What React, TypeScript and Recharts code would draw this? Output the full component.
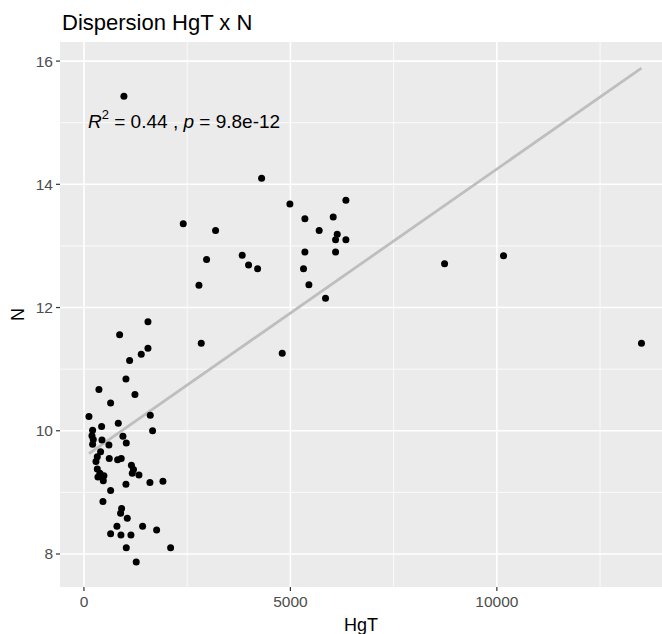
import { ScatterChart, Scatter, XAxis, YAxis, ReferenceLine, ReferenceArea } from 'recharts';

// HgT (x) and N (y)
const hgtValues = [
  968, 1106, 1017, 363, 1235, 646, 121, 1606, 831, 428,
  210, 1662, 194, 944, 226, 436, 1025, 210, 605, 403,
  323, 613, 815, 903, 291, 1150, 1200, 1170, 323, 387,
  484, 339, 1332, 468, 1598, 1913, 1017, 646, 460, 912,
  888, 1049, 799, 1421, 1760, 646, 896, 1138, 1025, 2099,
  1266, 1550, 864, 1550, 1388, 2405, 3188, 4303, 4988, 6344,
  5351, 6037, 5697, 6134, 6094, 6344, 5351, 6094, 2970, 3833,
  3987, 4205, 5318, 2785, 5448, 5851, 2841, 4802, 8734, 10162,
  13503,
];
const nValues = [
  15.43, 11.14, 10.84, 10.67, 10.59, 10.45, 10.23, 10.25, 10.12, 10.07,
  10.01, 10.0, 9.92, 9.91, 9.86, 9.85, 9.8, 9.78, 9.77, 9.66,
  9.58, 9.55, 9.53, 9.55, 9.5, 9.44, 9.37, 9.31, 9.38, 9.31,
  9.27, 9.25, 9.28, 9.19, 9.16, 9.18, 9.13, 9.03, 8.85, 8.74,
  8.66, 8.58, 8.45, 8.45, 8.39, 8.33, 8.31, 8.31, 8.1, 8.1,
  7.87, 11.77, 11.56, 11.34, 11.24, 13.36, 13.25, 14.1, 13.68, 13.74,
  13.44, 13.47, 13.25, 13.19, 13.1, 13.1, 12.9, 12.9, 12.78, 12.85,
  12.69, 12.63, 12.63, 12.36, 12.37, 12.15, 11.42, 11.26, 12.71, 12.84,
  11.42,
];

const xMajor = [0, 5000, 10000];
const xMinor = [2500, 7500, 12500];
const yMajor = [8, 10, 12, 14, 16];
const yMinor = [9, 11, 13, 15];

const points = hgtValues.map((x, i) => ({ x, y: nValues[i] }));

// least squares fit, drawn from min to max HgT like geom_smooth(method = "lm")
const n = points.length;
const mx = hgtValues.reduce((a, b) => a + b, 0) / n;
const my = nValues.reduce((a, b) => a + b, 0) / n;
let sxy = 0;
let sxx = 0;
points.forEach((p) => {
  sxy += (p.x - mx) * (p.y - my);
  sxx += (p.x - mx) * (p.x - mx);
});
const slope = sxy / sxx;
const intercept = my - slope * mx;
const xMin = Math.min(...hgtValues);
const xMax = Math.max(...hgtValues);
const fitSegment = [
  { x: xMin, y: intercept + slope * xMin },
  { x: xMax, y: intercept + slope * xMax },
];

const font = '"Liberation Sans", Arial, sans-serif';
const tickStyle = { fill: '#4d4d4d', fontSize: 15.5, fontFamily: font };

const App = () => {
  return (
    <div style={{ position: 'absolute', left: 0, top: 0, width: 662, height: 634, background: '#fff', fontFamily: font }}>
      <div style={{ position: 'absolute', left: 62, top: 12, fontSize: 22, lineHeight: '22px', color: '#000', whiteSpace: 'nowrap' }}>
        Dispersion HgT x N
      </div>
      <ScatterChart width={662} height={634} margin={{ top: 42, right: 0, bottom: 0, left: 0 }}>
        <XAxis
          type="number"
          dataKey="x"
          domain={[-580, 14000]}
          ticks={xMajor}
          allowDataOverflow
          axisLine={false}
          tickLine={{ stroke: '#333', strokeWidth: 1.2 }}
          tickSize={4}
          tickMargin={5}
          tick={tickStyle}
          height={47}
          label={{ value: 'HgT', position: 'insideBottom', offset: 3, fill: '#000', fontSize: 18, fontFamily: font }}
        />
        <YAxis
          type="number"
          dataKey="y"
          domain={[7.464, 16.31]}
          ticks={yMajor}
          allowDataOverflow
          axisLine={false}
          tickLine={{ stroke: '#333', strokeWidth: 1.2 }}
          tickSize={4}
          tickMargin={3}
          tick={tickStyle}
          width={60}
          label={{ value: 'N', angle: -90, position: 'insideLeft', offset: 18, fill: '#000', fontSize: 18, fontFamily: font, style: { textAnchor: 'middle' } }}
        />
        <ReferenceArea x1={-580} x2={14000} y1={7.464} y2={16.31} fill="#ebebeb" fillOpacity={1} stroke="none" />
        {xMinor.map((v) => (
          <ReferenceLine key={'xm' + v} x={v} stroke="#fff" strokeWidth={0.8} />
        ))}
        {yMinor.map((v) => (
          <ReferenceLine key={'ym' + v} y={v} stroke="#fff" strokeWidth={0.8} />
        ))}
        {xMajor.map((v) => (
          <ReferenceLine key={'xM' + v} x={v} stroke="#fff" strokeWidth={1.6} />
        ))}
        {yMajor.map((v) => (
          <ReferenceLine key={'yM' + v} y={v} stroke="#fff" strokeWidth={1.6} />
        ))}
        <Scatter data={points} fill="#000" isAnimationActive={false} shape={(p: any) => <circle cx={p.cx} cy={p.cy} r={3.5} fill="#000" />} />
        <ReferenceLine segment={fitSegment} stroke="#bebebe" strokeWidth={2.8} />
      </ScatterChart>
      <div style={{ position: 'absolute', left: 88, top: 112, fontSize: 19, lineHeight: '19px', color: '#000', whiteSpace: 'nowrap' }}>
        <i>R</i>
        <span style={{ position: 'relative', top: -9, fontSize: 13 }}>2</span> = 0.44 , <i>p</i> = 9.8e-12
      </div>
    </div>
  );
};

export default App;
